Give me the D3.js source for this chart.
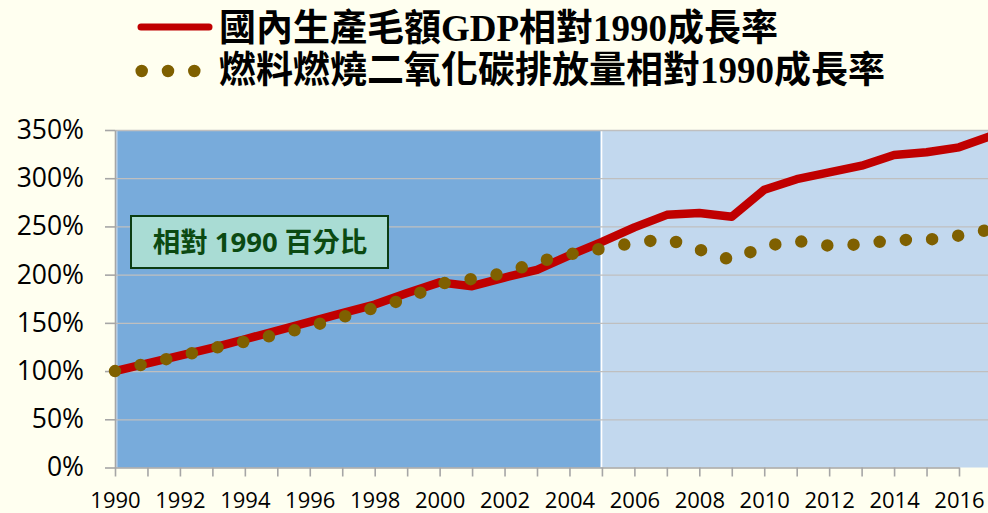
<!DOCTYPE html>
<html>
<head>
<meta charset="utf-8">
<script src="https://cdn.jsdelivr.net/npm/d3@7"></script>
<style>
  body { margin: 0; background: #FFFFF0; }
  svg { display: block; }
</style>
</head>
<body>
<div id="chart"></div>
<script>
// Data (percent of 1990)
const years = [1990, 1991, 1992, 1993, 1994, 1995, 1996, 1997, 1998, 1999,
               2000, 2001, 2002, 2003, 2004, 2005, 2006, 2007, 2008, 2009,
               2010, 2011, 2012, 2013, 2014, 2015, 2016, 2017];
const gdpGrowth = [100, 108, 116, 124, 133, 142, 151, 160, 169, 181,
                   192, 188, 197, 205, 220, 234, 249, 262, 264, 260,
                   288, 299, 306, 313, 324, 327, 332, 344];
const co2Growth = [100, 108, 115.5, 123.5, 130.5, 138, 146, 156, 165.5, 175,
                   190.5, 195.5, 201.5, 213, 221, 227, 233, 237, 226, 215,
                   229.5, 235, 230, 231.5, 236, 236, 240.5, 247];
const yTicks = [0, 50, 100, 150, 200, 250, 300, 350];
const shadedSpan = [1990, 2005];
const seriesNames = ["國內生產毛額GDP相對1990成長率", "燃料燃燒二氧化碳排放量相對1990成長率"];
const boxLabel = "相對 1990 百分比";

const W = 988, H = 513;
const plotLeft = 115, plotTop = 130, plotBottom = 467.5;

const svg = d3.select("#chart")
    .append("svg")
    .attr("width", W)
    .attr("height", H);

const x = d3.scaleLinear()
    .domain([1990, 2016])
    .range([plotLeft, 959]);

const y = d3.scaleLinear()
    .domain([0, 350])
    .range([plotBottom, plotTop]);

const plotRight = x(2018);

// plot backgrounds
svg.append("rect")
    .attr("x", plotLeft)
    .attr("y", plotTop)
    .attr("width", plotRight - plotLeft)
    .attr("height", plotBottom - plotTop)
    .attr("fill", "#C2D8EE");

svg.append("rect")
    .attr("x", x(shadedSpan[0]) + 2.5)
    .attr("y", plotTop)
    .attr("width", x(shadedSpan[1]) - x(shadedSpan[0]) - 3)
    .attr("height", plotBottom - plotTop)
    .attr("fill", "#78ABDB");

svg.append("line")
    .attr("x1", x(shadedSpan[1]) - 0.5)
    .attr("x2", x(shadedSpan[1]) - 0.5)
    .attr("y1", plotTop)
    .attr("y2", plotBottom)
    .attr("stroke", "#fff")
    .attr("stroke-width", 1.8);

// horizontal gridlines
svg.append("g")
    .attr("transform", `translate(${plotLeft},0)`)
    .call(d3.axisLeft(y).tickValues(yTicks.slice(1)).tickSize(-(plotRight - plotLeft)).tickFormat(""))
    .call(g => g.select(".domain").remove())
    .call(g => g.selectAll("line").attr("stroke", "#BFBFBF").attr("stroke-width", 1.3));

// Y axis
svg.append("g")
    .attr("transform", `translate(${plotLeft},0)`)
    .call(d3.axisLeft(y).tickValues(yTicks).tickSize(10).tickSizeOuter(0).tickPadding(21).tickFormat(d => d + "%"))
    .call(g => g.select(".domain").attr("stroke", "#A6A6A6").attr("stroke-width", 1.6))
    .call(g => g.selectAll("line").attr("stroke", "#A6A6A6").attr("stroke-width", 1.6))
    .call(g => g.selectAll("text")
        .attr("fill", "#000")
        .style("font-family", "'Open Sans', sans-serif")
        .style("font-size", "26.5px"));

// X axis
svg.append("g")
    .attr("transform", `translate(0,${plotBottom})`)
    .call(d3.axisBottom(x).tickValues(years).tickSize(9).tickSizeOuter(0).tickPadding(8)
        .tickFormat(d => d % 2 === 0 ? String(d) : ""))
    .call(g => g.select(".domain").attr("stroke", "#A6A6A6").attr("stroke-width", 1.6))
    .call(g => g.selectAll("line").attr("stroke", "#A6A6A6").attr("stroke-width", 1.6))
    .call(g => g.selectAll("text")
        .attr("fill", "#000")
        .attr("dy", null)
        .attr("y", 40)
        .style("font-family", "'Open Sans', sans-serif")
        .style("font-size", "22px"));

// series lines
const seriesLine = d3.line()
    .x((d, i) => x(years[i]))
    .y(d => y(d));

svg.append("path")
    .datum(gdpGrowth)
    .attr("d", seriesLine)
    .attr("fill", "none")
    .attr("stroke", "#C00000")
    .attr("stroke-width", 8.5)
    .attr("stroke-linejoin", "round")
    .attr("stroke-linecap", "round");

svg.append("path")
    .datum(co2Growth)
    .attr("d", seriesLine)
    .attr("fill", "none")
    .attr("stroke", "#7F6000")
    .attr("stroke-width", 12.5)
    .attr("stroke-linecap", "round")
    .attr("stroke-dasharray", "0 26.3");

// annotation box
const box = svg.append("g");
box.append("rect")
    .attr("x", 131)
    .attr("y", 216)
    .attr("width", 257)
    .attr("height", 52)
    .attr("fill", "#A9DCD4")
    .attr("stroke", "#0B3D12")
    .attr("stroke-width", 2);
box.append("text")
    .attr("x", 260)
    .attr("y", 252)
    .attr("text-anchor", "middle")
    .attr("fill", "#0B4A12")
    .style("font-family", "'Open Sans', 'Noto Sans CJK TC', sans-serif")
    .style("font-weight", "bold")
    .style("font-size", "27.5px")
    .text(boxLabel);

// legend
const legend = svg.append("g");
legend.append("line")
    .attr("x1", 141).attr("x2", 209)
    .attr("y1", 27).attr("y2", 27)
    .attr("stroke", "#C00000")
    .attr("stroke-width", 7)
    .attr("stroke-linecap", "round");
legend.append("line")
    .attr("x1", 141.7).attr("x2", 196)
    .attr("y1", 71).attr("y2", 71)
    .attr("stroke", "#7F6000")
    .attr("stroke-width", 12.5)
    .attr("stroke-linecap", "round")
    .attr("stroke-dasharray", "0 26.3");

legend.selectAll("text")
    .data(seriesNames)
    .enter()
    .append("text")
    .attr("x", 219)
    .attr("y", (d, i) => i === 0 ? 41 : 83)
    .attr("fill", "#000")
    .style("font-family", "'Liberation Serif', 'Noto Sans CJK TC', serif")
    .style("font-weight", "bold")
    .style("font-size", "37px")
    .text(d => d);
</script>
</body>
</html>
